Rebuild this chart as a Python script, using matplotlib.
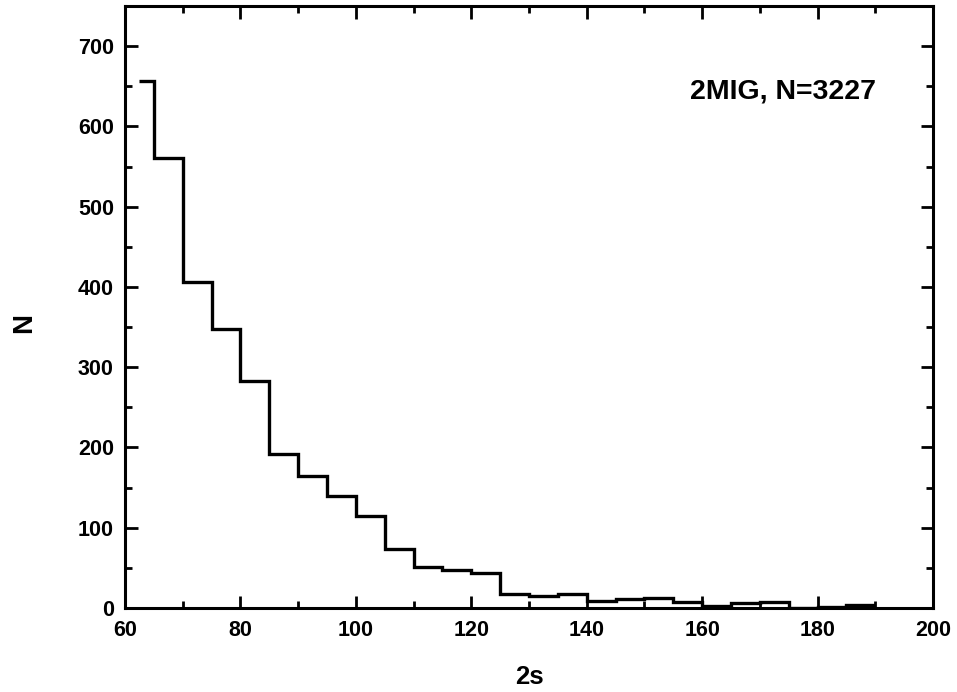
import matplotlib
matplotlib.use("Agg")
import matplotlib.pyplot as plt
from matplotlib.ticker import MultipleLocator

plt.rcParams['font.family'] = ['Liberation Sans', 'DejaVu Sans']
plt.rcParams['font.weight'] = 'bold'

# bin edges of the 2s histogram (first segment is a half bin)
edges = [62.5, 65, 70, 75, 80, 85, 90, 95, 100, 105, 110, 115, 120, 125,
         130, 135, 140, 145, 150, 155, 160, 165, 170, 175, 180, 185, 190]
counts = [656, 561, 406, 347, 283, 192, 165, 139, 115, 73, 51, 47, 43, 18,
          15, 17, 9, 11, 12, 8, 3, 6, 8, 0, 1, 4]

fig = plt.figure(figsize=(9.57, 6.92), dpi=100)
ax = fig.add_axes([0.1306, 0.1214, 0.8444, 0.8699])

ax.stairs(counts, edges, color='black', linewidth=2.4, baseline=None)

ax.set_xlim(60, 200)
ax.set_ylim(0, 750)
ax.xaxis.set_major_locator(MultipleLocator(20))
ax.xaxis.set_minor_locator(MultipleLocator(10))
ax.yaxis.set_major_locator(MultipleLocator(100))
ax.yaxis.set_minor_locator(MultipleLocator(50))
ax.tick_params(which='both', direction='in', top=True, right=True, width=2, labelsize=15.5)
ax.tick_params(which='major', length=9)
ax.tick_params(which='minor', length=5)
ax.tick_params(axis='x', pad=9)
ax.tick_params(axis='y', pad=8)
for s in ax.spines.values():
    s.set_linewidth(2.2)

ax.set_xlabel('2s', fontsize=18.5, fontweight='bold', labelpad=17)
ax.set_ylabel('N', fontsize=20, fontweight='bold', va='center')
ax.yaxis.set_label_coords(-0.125, 0.473)
ax.text(0.699, 0.847, '2MIG, N=3227', transform=ax.transAxes, fontsize=20.5,
        fontweight='bold', va='baseline')

fig.savefig('out.png', dpi=100)
